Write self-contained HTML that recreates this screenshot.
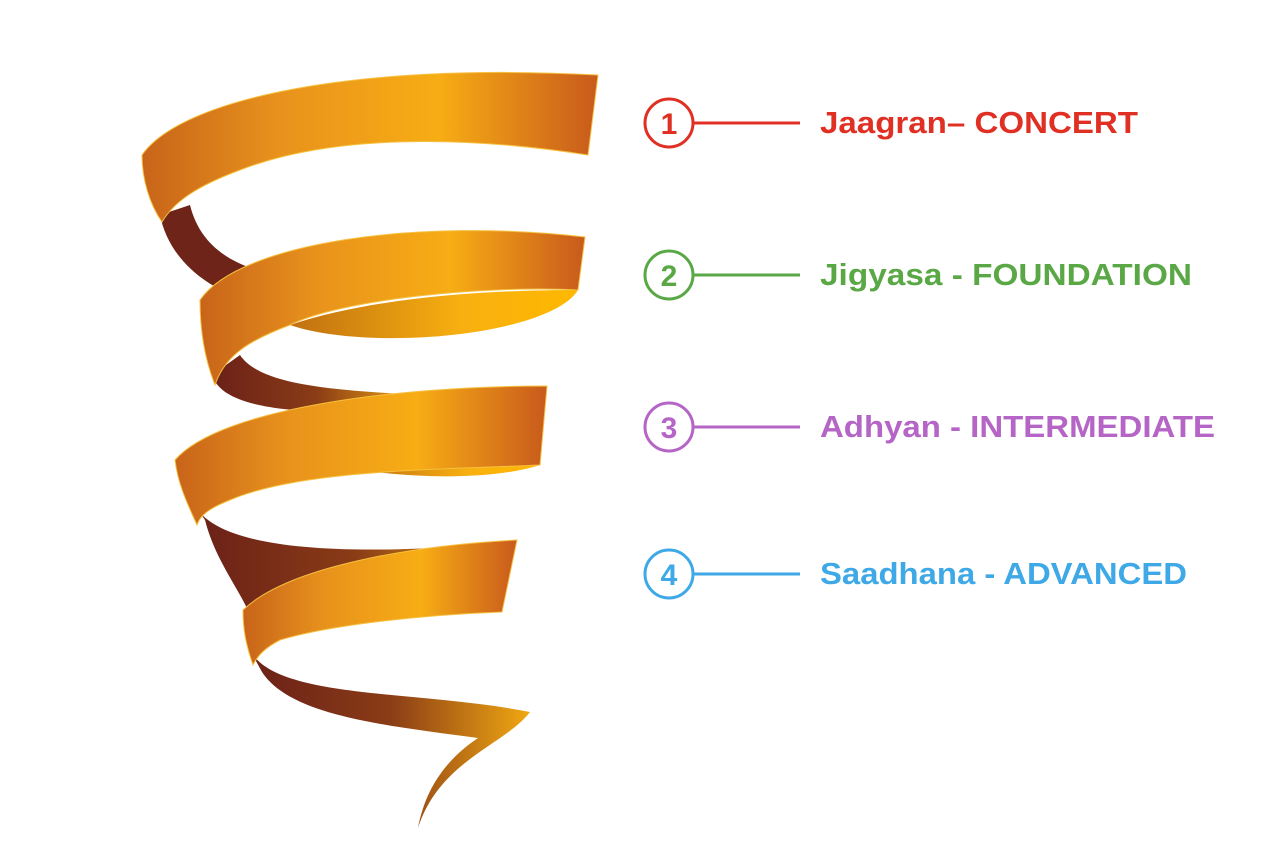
<!DOCTYPE html>
<html><head><meta charset="utf-8"><style>
html,body{margin:0;padding:0;background:#fff;}
svg{display:block;}
text{font-family:"Liberation Sans",sans-serif;font-weight:bold;}
</style></head><body>
<svg width="1280" height="859" viewBox="0 0 1280 859">
<defs>
<linearGradient id="band" x1="0" y1="0" x2="1" y2="0">
<stop offset="0" stop-color="#c8641a"/><stop offset="0.3" stop-color="#e8921c"/><stop offset="0.65" stop-color="#f7ad14"/><stop offset="1" stop-color="#c85a1c"/>
</linearGradient>
<linearGradient id="dark" x1="0" y1="0" x2="1" y2="0">
<stop offset="0" stop-color="#6a2018"/><stop offset="0.5" stop-color="#8a3c16"/><stop offset="1" stop-color="#f0a812"/>
</linearGradient>
<linearGradient id="under" x1="0" y1="0" x2="1" y2="0">
<stop offset="0" stop-color="#c07010"/><stop offset="0.6" stop-color="#f8b010"/><stop offset="1" stop-color="#ffb800"/>
</linearGradient>
</defs>
<g>
<path fill="#6e2418" d="M160,215 C168,255 200,285 245,300 L275,275 C230,265 200,245 190,205 Z"/>
<path fill="url(#dark)" d="M212,375 C220,400 260,410 330,412 L420,395 C330,390 260,385 240,355 Z"/>
<path fill="url(#dark)" d="M195,505 C215,545 320,560 517,542 L500,560 C380,570 300,580 250,615 C240,590 215,560 205,520 Z"/>
<path fill="url(#dark)" d="M250,650 C275,700 420,690 530,712 C505,745 440,760 418,828 C425,790 445,760 478,738 C380,725 290,715 262,672 Z"/>
<path fill="url(#under)" d="M290,325 C380,295 500,290 578,290 C560,320 470,340 380,338 C340,337 310,332 290,325 Z"/>
<path fill="url(#under)" d="M360,470 C430,460 500,462 540,465 C500,478 430,480 360,470 Z"/>
<path fill="url(#band)" stroke="#f6c040" stroke-width="1" d="M142,155 C180,100 350,62 598,75 L588,155 C460,135 330,135 240,170 C200,185 175,200 162,222 C150,205 142,180 142,155 Z"/>
<path fill="url(#band)" stroke="#f6c040" stroke-width="1" d="M200,300 C240,242 420,218 585,237 L578,290 C480,285 340,300 290,325 C250,340 225,355 215,385 C205,360 200,330 200,300 Z"/>
<path fill="url(#band)" stroke="#f6c040" stroke-width="1" d="M175,460 C220,408 400,386 547,386 L540,465 C430,470 300,470 230,500 C210,508 200,515 197,525 C188,505 178,485 175,460 Z"/>
<path fill="url(#band)" stroke="#f6c040" stroke-width="1" d="M243,610 C290,565 420,545 517,540 L502,612 C420,615 330,625 280,640 C265,648 258,655 253,665 C246,645 243,630 243,610 Z"/>
</g>
<g>
<g>
<circle cx="669" cy="123" r="24" fill="none" stroke="#e03024" stroke-width="3"/>
<text x="669" y="134" text-anchor="middle" font-size="30" fill="#e03024">1</text>
<line x1="693" y1="123" x2="800" y2="123" stroke="#e03024" stroke-width="3"/>
<text x="820" y="133" font-size="31" fill="#e03024" textLength="318" lengthAdjust="spacingAndGlyphs">Jaagran– CONCERT</text>
</g>
<g>
<circle cx="669" cy="275" r="24" fill="none" stroke="#5aa845" stroke-width="3"/>
<text x="669" y="286" text-anchor="middle" font-size="30" fill="#5aa845">2</text>
<line x1="693" y1="275" x2="800" y2="275" stroke="#5aa845" stroke-width="3"/>
<text x="820" y="285" font-size="31" fill="#5aa845" textLength="372" lengthAdjust="spacingAndGlyphs">Jigyasa - FOUNDATION</text>
</g>
<g>
<circle cx="669" cy="427" r="24" fill="none" stroke="#b565c6" stroke-width="3"/>
<text x="669" y="438" text-anchor="middle" font-size="30" fill="#b565c6">3</text>
<line x1="693" y1="427" x2="800" y2="427" stroke="#b565c6" stroke-width="3"/>
<text x="820" y="437" font-size="31" fill="#b565c6" textLength="395" lengthAdjust="spacingAndGlyphs">Adhyan - INTERMEDIATE</text>
</g>
<g>
<circle cx="669" cy="574" r="24" fill="none" stroke="#3ea9e6" stroke-width="3"/>
<text x="669" y="585" text-anchor="middle" font-size="30" fill="#3ea9e6">4</text>
<line x1="693" y1="574" x2="800" y2="574" stroke="#3ea9e6" stroke-width="3"/>
<text x="820" y="584" font-size="31" fill="#3ea9e6" textLength="367" lengthAdjust="spacingAndGlyphs">Saadhana - ADVANCED</text>
</g>
</g>
</svg>
</body></html>
